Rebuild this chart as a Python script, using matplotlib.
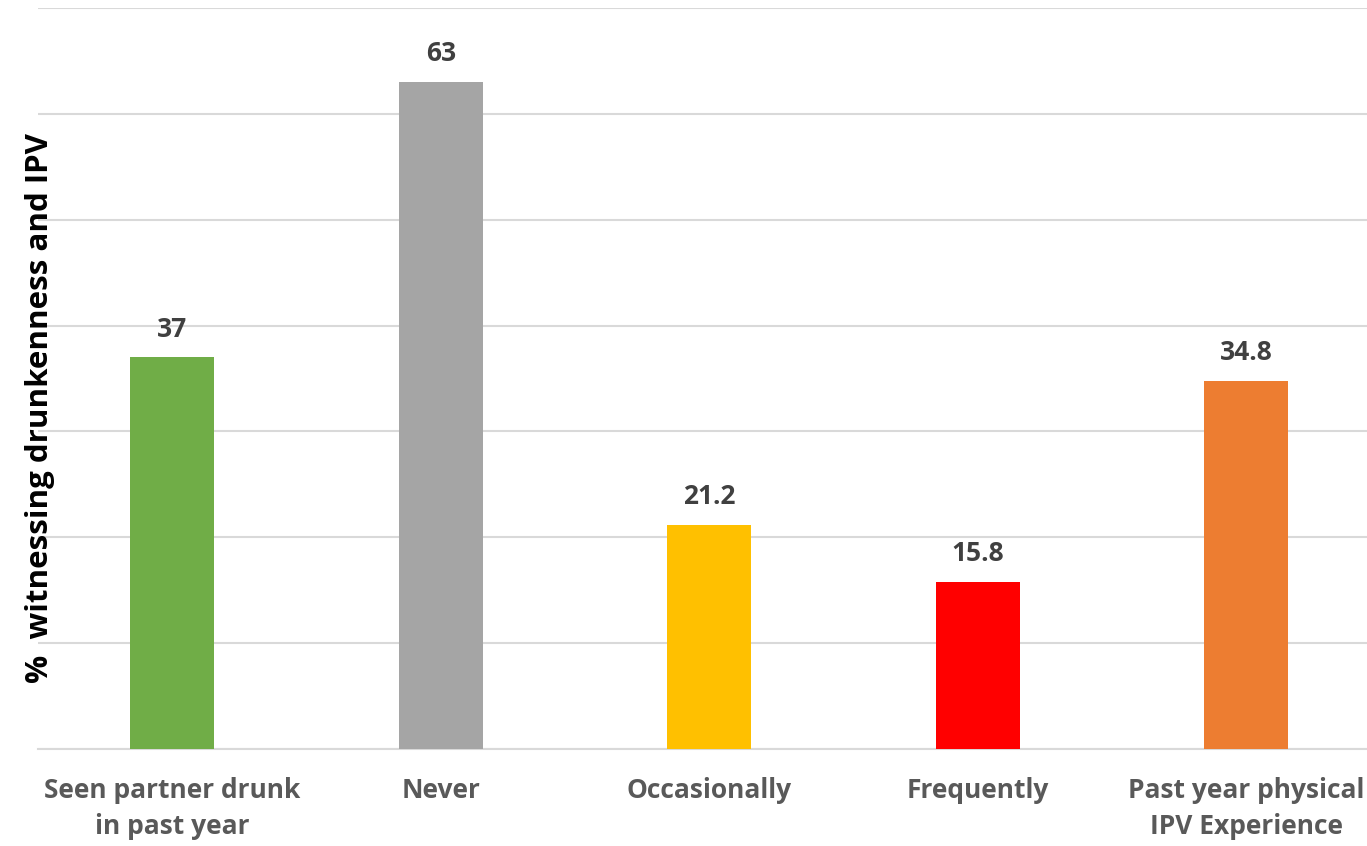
import matplotlib.pyplot as plt

categories = ['Seen partner drunk\nin past year', 'Never', 'Occasionally',
              'Frequently', 'Past year physical\nIPV Experience']
values = [37, 63, 21.2, 15.8, 34.8]
value_labels = ['37', '63', '21.2', '15.8', '34.8']
colors = ['#70AD47', '#A5A5A5', '#FFC000', '#FF0000', '#ED7D31']

plt.rcParams['font.family'] = ['Open Sans', 'DejaVu Sans']

fig = plt.figure(figsize=(13.67, 8.46), dpi=100)
ax = fig.add_axes([38 / 1367, 97 / 846, 1 - 38 / 1367, 741 / 846])

x = range(len(categories))
bars = ax.bar(x, values, width=0.313, color=colors, zorder=3)

for b, lab in zip(bars, value_labels):
    ax.text(b.get_x() + b.get_width() / 2, b.get_height() + 1.4, lab,
            ha='center', va='bottom', fontsize=19, fontweight='bold', color='#404040')

ax.set_xlim(-0.5, 4.45)
ax.set_ylim(0, 70)
ax.set_yticks(range(0, 71, 10))
ax.set_yticklabels([])
ax.tick_params(axis='y', length=0)
ax.grid(axis='y', color='#D9D9D9', linewidth=1.5, zorder=0)

ax.set_xticks(list(x))
ax.set_xticklabels(categories, fontsize=19, fontweight='bold', color='#595959', linespacing=1.45)
ax.tick_params(axis='x', length=0, pad=20)

for s in ['top', 'right', 'left']:
    ax.spines[s].set_visible(False)
ax.spines['bottom'].set_color('#D9D9D9')
ax.spines['bottom'].set_linewidth(1.5)

ax.set_ylabel('%  witnessing drunkenness and IPV', fontsize=22.5, fontweight='bold',
              color='black')
ax.yaxis.set_label_coords(0.013, 0.46)

fig.savefig('out.png', dpi=100)
